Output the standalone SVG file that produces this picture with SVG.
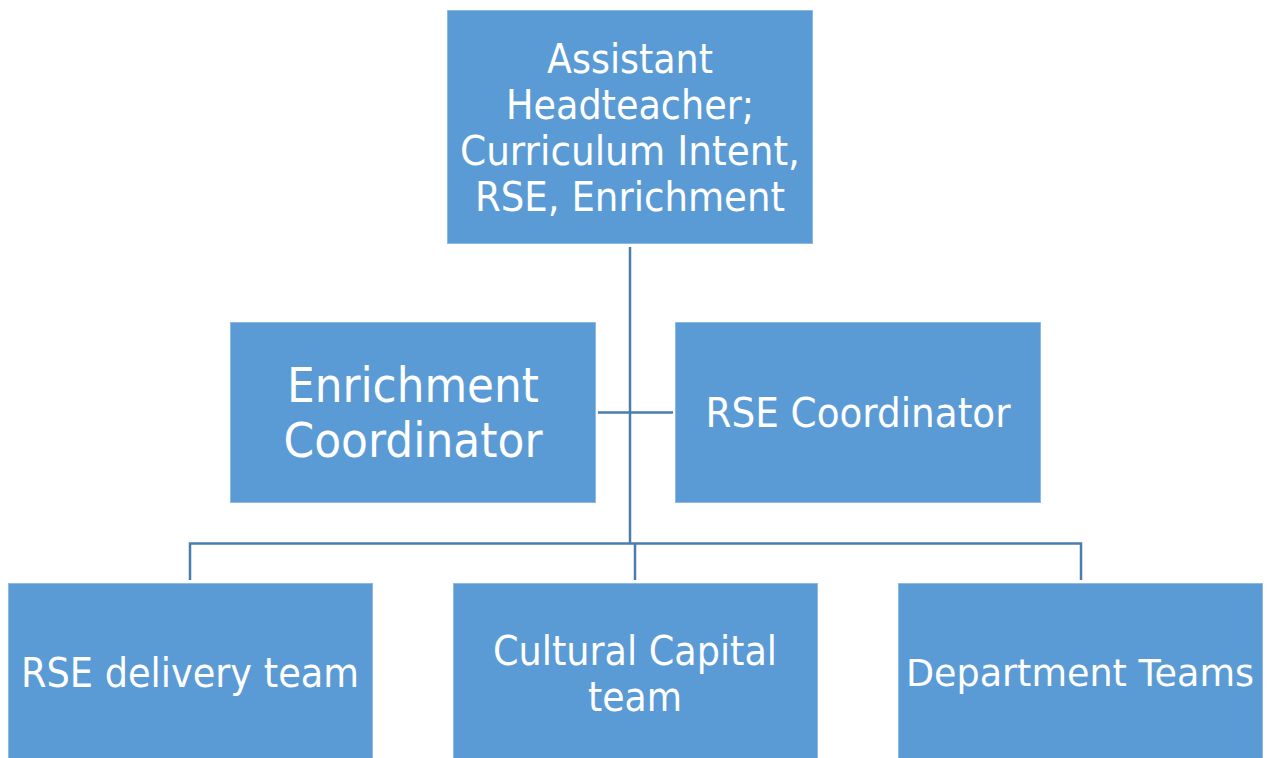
<svg xmlns="http://www.w3.org/2000/svg" width="1271" height="758" viewBox="0 0 1271 758">
<style>
.box{fill:#5B9BD5;stroke:#8DB9E2;stroke-width:1}
.t{fill:#FFFFFF;font-family:"DejaVu Sans","Liberation Sans",sans-serif;text-anchor:middle;font-size:40px}
.big{font-size:48px}
.c{fill:none;stroke:#4A7DAE;stroke-width:2.5}
</style>
<rect width="1271" height="758" fill="#FFFFFF"/>
<g id="connectors">
<line class="c" x1="630" y1="247" x2="630" y2="543"/>
<line class="c" x1="598" y1="412.5" x2="673" y2="412.5"/>
<polyline class="c" points="190,580 190,543.5 1081,543.5 1081,580"/>
<line class="c" x1="635" y1="543.5" x2="635" y2="580"/>
</g>
<g id="node-aht">
<rect class="box" x="447.5" y="10.5" width="365" height="233"/>
<text class="t" x="630" y="73" textLength="166" lengthAdjust="spacingAndGlyphs">Assistant</text>
<text class="t" x="630" y="119" textLength="248" lengthAdjust="spacingAndGlyphs">Headteacher;</text>
<text class="t" x="630" y="165" textLength="340" lengthAdjust="spacingAndGlyphs">Curriculum Intent,</text>
<text class="t" x="630" y="211" textLength="310" lengthAdjust="spacingAndGlyphs">RSE, Enrichment</text>
</g>
<g id="node-enrichment">
<rect class="box" x="230.5" y="322.5" width="365" height="180"/>
<text class="t big" x="413" y="402" textLength="252" lengthAdjust="spacingAndGlyphs">Enrichment</text>
<text class="t big" x="413" y="457" textLength="259" lengthAdjust="spacingAndGlyphs">Coordinator</text>
</g>
<g id="node-rse-coord">
<rect class="box" x="675.5" y="322.5" width="365" height="180"/>
<text class="t" x="858" y="427" textLength="305" lengthAdjust="spacingAndGlyphs">RSE Coordinator</text>
</g>
<g id="node-rse-team">
<rect class="box" x="8.5" y="583.5" width="364" height="180"/>
<text class="t" x="190" y="687" textLength="338" lengthAdjust="spacingAndGlyphs">RSE delivery team</text>
</g>
<g id="node-cultural">
<rect class="box" x="453.5" y="583.5" width="364" height="180"/>
<text class="t" x="635" y="665" textLength="284" lengthAdjust="spacingAndGlyphs">Cultural Capital</text>
<text class="t" x="635" y="711" textLength="94" lengthAdjust="spacingAndGlyphs">team</text>
</g>
<g id="node-dept">
<rect class="box" x="898.5" y="583.5" width="364" height="180"/>
<text class="t" x="1080" y="686" style="font-size:37px" textLength="348" lengthAdjust="spacingAndGlyphs">Department Teams</text>
</g>
</svg>
